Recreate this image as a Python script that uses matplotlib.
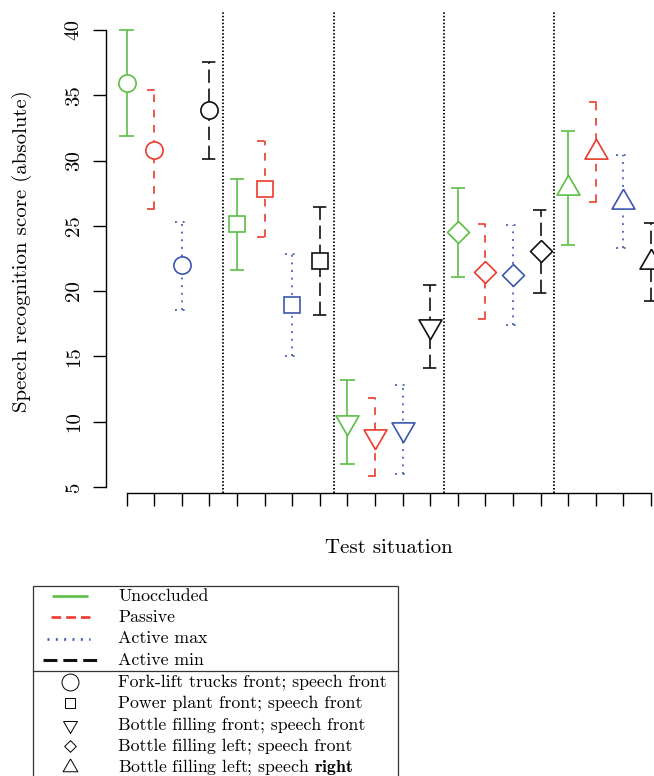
import matplotlib
matplotlib.use('Agg')
import matplotlib.pyplot as plt
from matplotlib.patches import Rectangle

plt.rcParams['font.family'] = ['cmr10', 'DejaVu Serif']
plt.rcParams['mathtext.fontset'] = 'cm'
plt.rcParams['axes.formatter.use_mathtext'] = True
plt.rcParams['lines.scale_dashes'] = False

# ---------------- data ----------------
conditions = ['Unoccluded', 'Passive', 'Active max', 'Active min']
situations = ['Fork-lift trucks front; speech front',
              'Power plant front; speech front',
              'Bottle filling front; speech front',
              'Bottle filling left; speech front',
              r'Bottle filling left; speech $\mathbf{right}$']

unoccluded_mean = [35.96, 25.12, 9.97, 24.50, 27.90]
unoccluded_lo = [31.88, 21.62, 6.74, 21.11, 23.53]
unoccluded_hi = [40.00, 28.59, 13.19, 27.88, 32.26]

passive_mean = [30.81, 27.85, 8.86, 21.48, 30.65]
passive_lo = [26.27, 24.17, 5.87, 17.84, 26.85]
passive_hi = [35.40, 31.52, 11.84, 25.12, 34.46]

active_max_mean = [22.00, 18.95, 9.40, 21.24, 26.86]
active_max_lo = [18.56, 15.05, 6.00, 17.41, 23.28]
active_max_hi = [25.32, 22.84, 12.81, 25.07, 30.43]

active_min_mean = [33.87, 22.32, 17.30, 23.05, 22.26]
active_min_lo = [30.10, 18.17, 14.14, 19.83, 19.27]
active_min_hi = [37.57, 26.47, 20.47, 26.21, 25.25]

y_ticks = [5, 10, 15, 20, 25, 30, 35, 40]

# ---------------- styles ----------------
colors = ['#5cbf45', '#ec3a2c', '#3c56b0', '#111111']
dashes = ['-', (0, (5.5, 5.5)), (0, (1.4, 4.1)), (0, (9.6, 4.1))]
tri_up = [(0, 1.5551), (1.3468, -0.7776), (-1.3468, -0.7776), (0, 1.5551)]
tri_dn = [(0, -1.5551), (1.3468, 0.7776), (-1.3468, 0.7776), (0, -1.5551)]
diamond = [(0, 1), (1, 0), (0, -1), (-1, 0), (0, 1)]
markers = ['o', 's', tri_dn, diamond, tri_up]
msizes = [12.4, 11.4, 19.0, 15.8, 19.0]

means = [unoccluded_mean, passive_mean, active_max_mean, active_min_mean]
los = [unoccluded_lo, passive_lo, active_max_lo, active_min_lo]
his = [unoccluded_hi, passive_hi, active_max_hi, active_min_hi]

W, H = 654, 776
fig = plt.figure(figsize=(W / 100, H / 100), dpi=100)
ax = fig.add_axes([105.7 / W, 1 - 493 / H, (672 - 105.7) / W, (493 - 10.8) / H])
ax.set_xlim(0.24, 20.76)
ax.set_ylim(4.53, 41.47)

n_cond = len(conditions)
n_sit = len(situations)

# group separators
for k in range(1, n_sit):
    ax.axvline(n_cond * k + 0.5, color='black', lw=1.3,
               linestyle=(0, (1.1, 1.4)), zorder=1)

cap = 0.26
for i in range(n_sit):
    for j in range(n_cond):
        x = n_cond * i + j + 1
        c = colors[j]
        ls = dashes[j]
        ax.vlines(x, los[j][i], his[j][i], color=c, linestyle=ls, lw=1.2, zorder=2)
        ax.hlines([los[j][i], his[j][i]], x - cap, x + cap, color=c,
                  linestyle=ls, lw=1.2, zorder=2)
        ax.plot([x], [means[j][i]], marker=markers[i], ms=msizes[i],
                mfc='white', mec=c, mew=1.2, ls='none', zorder=3)

for s in ['top', 'right']:
    ax.spines[s].set_visible(False)
ax.spines['left'].set_bounds(y_ticks[0], y_ticks[-1])
ax.spines['bottom'].set_bounds(1, n_cond * n_sit)
for s in ['left', 'bottom']:
    ax.spines[s].set_linewidth(1.0)
ax.set_yticks(y_ticks)
ax.set_yticklabels([str(v) for v in y_ticks], rotation=90, va='center')
ax.set_xticks(range(1, n_cond * n_sit + 1))
ax.set_xticklabels([])
ax.tick_params(axis='both', direction='out', length=9.5, width=1.0,
               labelsize=15, pad=7)

fig.text(22 / W, 1 - 251.5 / H, 'Speech recognition score (absolute)',
         rotation=90, ha='center', va='center', fontsize=15)
fig.text(389 / W, 1 - 548 / H, 'Test situation', ha='center', va='center',
         fontsize=15)

# ---------------- legend ----------------
lax = fig.add_axes([0, 0, 1, 1])
lax.set_xlim(0, W)
lax.set_ylim(H, 0)
lax.axis('off')
lax.add_patch(Rectangle((33, 586), 365, 200, fill=False, ec='#333333',
                        lw=0.9, clip_on=False))
lax.plot([33, 398], [670.7, 670.7], color='#333333', lw=0.9)

row_y = [596, 617.3, 638.7, 660, 682, 703.3, 724.7, 746, 767.3]
leg_dash = ['-', (0, (7, 3.6)), (0, (1.4, 4.6)), (0, (10, 4.3))]
leg_x = [(52, 88), (51, 90), (47, 90), (43, 97)]
leg_lw = [1.9, 1.9, 1.9, 2.2]
for j in range(n_cond):
    lax.plot(leg_x[j], [row_y[j]] * 2, color=colors[j], lw=leg_lw[j],
             linestyle=leg_dash[j], solid_capstyle='butt', dash_capstyle='butt')
    lax.text(118, row_y[j], conditions[j], ha='left', va='center', fontsize=12.8)

leg_ms = [12.2, 6.7, 11.5, 8.4, 12.3]
for i in range(n_sit):
    y = row_y[n_cond + i]
    lax.plot([70], [y], marker=markers[i], ms=leg_ms[i], mfc='none',
             mec='black', mew=0.7, ls='none')
    lax.text(118, y, situations[i], ha='left', va='center', fontsize=12.8)

fig.savefig('out.png', dpi=100)
